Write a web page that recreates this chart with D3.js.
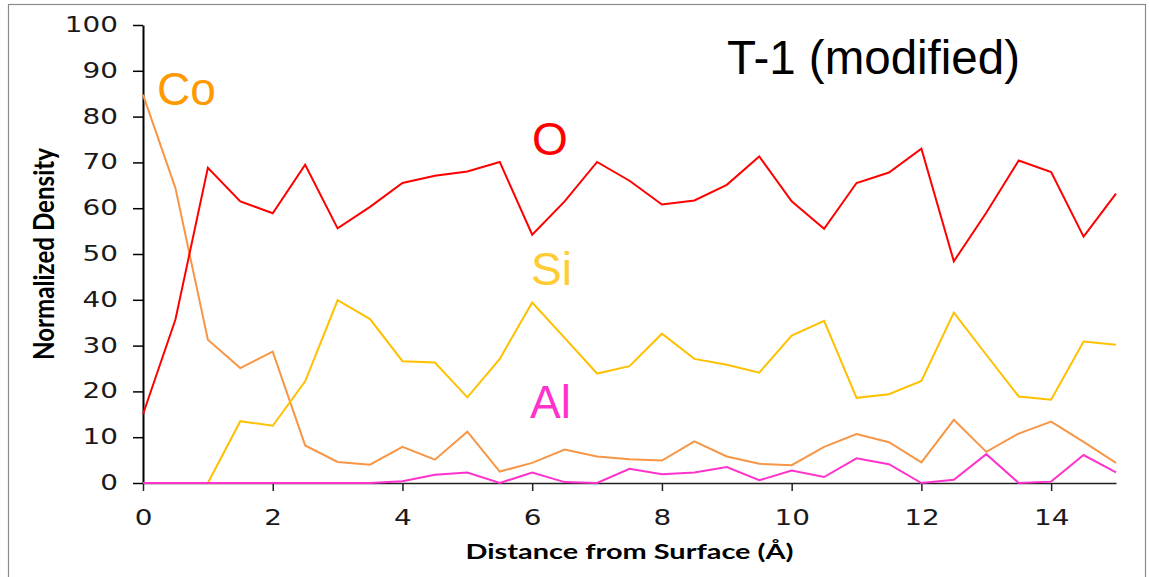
<!DOCTYPE html>
<html>
<head>
<meta charset="utf-8">
<script src="https://cdn.jsdelivr.net/npm/d3@7"></script>
<style>
  body { margin: 0; background: #fff; }
  svg { display: block; }
</style>
</head>
<body>
<div id="chart"></div>
<script>
// distance from surface (Å), 0.5 Å steps
const distance = [0, 0.5, 1, 1.5, 2, 2.5, 3, 3.5, 4, 4.5, 5, 5.5, 6, 6.5, 7, 7.5,
                  8, 8.5, 9, 9.5, 10, 10.5, 11, 11.5, 12, 12.5, 13, 13.5, 14, 14.5, 15];

const oxygen = [15, 35.7, 68.8, 61.5, 58.9, 69.5, 55.6, 60.3, 65.5, 67.1, 68.0, 70.1, 54.2, 61.5, 70.1, 66.0,
                60.8, 61.7, 65.1, 71.3, 61.5, 55.5, 65.5, 67.8, 73.0, 48.4, 59.0, 70.4, 67.9, 53.8, 63.2];
const silicon = [0, 0, 0, 13.5, 12.5, 22.2, 39.9, 35.8, 26.6, 26.3, 18.7, 27.1, 39.4, 31.7, 23.9, 25.5,
                 32.6, 27.1, 25.8, 24.1, 32.2, 35.4, 18.6, 19.4, 22.3, 37.2, 28.0, 18.9, 18.2, 30.9, 30.2];
const cobalt = [84.8, 64.4, 31.3, 25.1, 28.7, 8.2, 4.6, 4.0, 7.9, 5.1, 11.2, 2.5, 4.4, 7.3, 5.8, 5.2,
                4.9, 9.1, 5.8, 4.2, 3.9, 7.9, 10.7, 8.9, 4.5, 13.8, 6.8, 10.8, 13.4, 9.0, 4.4];
const aluminum = [0, 0, 0, 0, 0, 0, 0, 0, 0.4, 1.8, 2.3, 0, 2.3, 0.2, 0, 3.1,
                  1.9, 2.3, 3.5, 0.6, 2.7, 1.3, 5.4, 4.1, 0, 0.7, 6.3, 0, 0.3, 6.1, 2.3];

const xTicks = [0, 2, 4, 6, 8, 10, 12, 14];
const yTicks = [0, 10, 20, 30, 40, 50, 60, 70, 80, 90, 100];

const series = [
  { name: 'Co', values: cobalt, line: '#F79646', label: '#FF9900', lx: 157, ly: 105 },
  { name: 'Si', values: silicon, line: '#FFC000', label: '#FFCC33', lx: 531, ly: 285 },
  { name: 'O', values: oxygen, line: '#FF0000', label: '#FF0000', lx: 532, ly: 155 },
  { name: 'Al', values: aluminum, line: '#FF33CC', label: '#FF33CC', lx: 530, ly: 418 }
];

const W = 1149, H = 577;
const margin = { top: 25, right: 33, bottom: 94, left: 143 };
const width = W - margin.left - margin.right;
const height = H - margin.top - margin.bottom;

const svg = d3.select('#chart').append('svg')
  .attr('width', W)
  .attr('height', H);

// outer frame
svg.append('rect')
  .attr('x', 8.5).attr('y', 4.5)
  .attr('width', 1137).attr('height', 600)
  .attr('fill', 'none')
  .attr('stroke', '#8c8c8c')
  .attr('stroke-width', 1.2);

const g = svg.append('g')
  .attr('transform', `translate(${margin.left},${margin.top})`);

const x = d3.scaleLinear().domain([0, 15]).range([0, width]);
const y = d3.scaleLinear().domain([0, 100]).range([height, 0]);

// stretched tick labels (the source chart was widened)
const stretch = 1.36;

const yAxis = g.append('g')
  .call(d3.axisLeft(y).tickValues(yTicks).tickSize(10).tickSizeOuter(0));
yAxis.select('.domain').attr('stroke', '#000').attr('stroke-width', 2);
yAxis.selectAll('.tick line').attr('stroke', '#000').attr('stroke-width', 1.5);
yAxis.selectAll('.tick text')
  .attr('x', 0)
  .attr('transform', `translate(-25,0) scale(${stretch},1)`)
  .attr('font-family', 'DejaVu Sans')
  .attr('font-size', 20.5)
  .attr('fill', '#1a1a1a');

const xAxis = g.append('g')
  .attr('transform', `translate(0,${height})`)
  .call(d3.axisBottom(x).tickValues(xTicks).tickSize(8).tickSizeOuter(0));
xAxis.select('.domain').attr('stroke', '#222').attr('stroke-width', 1.6);
xAxis.selectAll('.tick line').attr('stroke', '#222').attr('stroke-width', 1.5);
xAxis.selectAll('.tick text')
  .attr('y', 0).attr('dy', 0)
  .attr('transform', `translate(0,42) scale(${stretch},1)`)
  .attr('font-family', 'DejaVu Sans')
  .attr('font-size', 20.5)
  .attr('fill', '#1a1a1a');

// axis titles
svg.append('text')
  .attr('x', 629.5).attr('y', 559)
  .attr('text-anchor', 'middle')
  .attr('font-family', 'Lato')
  .attr('font-weight', 'bold')
  .attr('font-size', 21.5)
  .attr('textLength', 328)
  .attr('lengthAdjust', 'spacingAndGlyphs')
  .text('Distance from Surface (Å)');

svg.append('text')
  .attr('transform', `translate(54,254) scale(1.3,1) rotate(-90)`)
  .attr('text-anchor', 'middle')
  .attr('font-family', 'Lato')
  .attr('font-weight', 'bold')
  .attr('font-size', 21.5)
  .attr('textLength', 212)
  .attr('lengthAdjust', 'spacingAndGlyphs')
  .text('Normalized Density');

// lines
const line = d3.line()
  .x((d, i) => x(distance[i]))
  .y(d => y(d));

g.selectAll('.series')
  .data(series)
  .join('path')
  .attr('class', 'series')
  .attr('d', d => line(d.values))
  .attr('fill', 'none')
  .attr('stroke', d => d.line)
  .attr('stroke-width', 2)
  .attr('stroke-linejoin', 'miter');

// element labels
svg.selectAll('.elem')
  .data(series)
  .join('text')
  .attr('class', 'elem')
  .attr('x', d => d.lx)
  .attr('y', d => d.ly)
  .attr('font-family', 'Liberation Sans, Arial, sans-serif')
  .attr('font-size', 46)
  .attr('fill', d => d.label)
  .text(d => d.name);

svg.append('text')
  .attr('x', 727).attr('y', 74)
  .attr('font-family', 'Liberation Sans, Arial, sans-serif')
  .attr('font-size', 47.5)
  .attr('fill', '#000')
  .text('T-1 (modified)');
</script>
</body>
</html>
